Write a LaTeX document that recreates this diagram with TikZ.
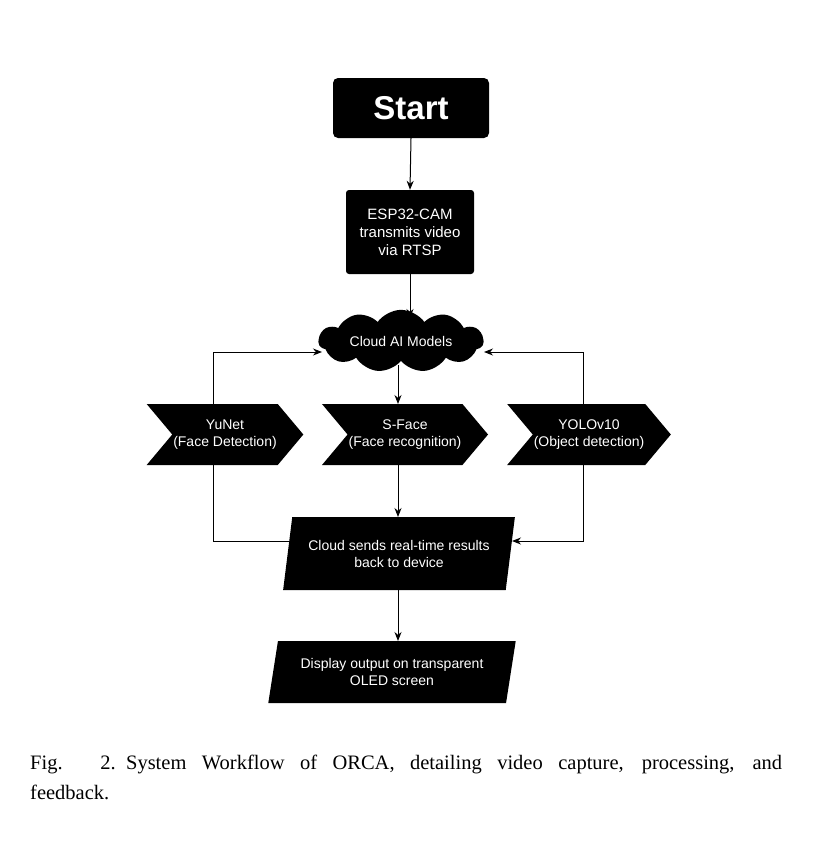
\documentclass[tikz,border=0pt]{standalone}
\usepackage{fontspec}
\setmainfont{Liberation Serif}
\newfontfamily\arialf{Liberation Sans}
\usetikzlibrary{shapes.geometric,shapes.symbols,arrows.meta}
\begin{document}
\begin{tikzpicture}[x=1pt,y=-1pt,
  blk/.style={fill=black,text=white,font=\arialf\fontsize{14}{17}\selectfont,align=center,inner sep=1pt},
  chev/.style={blk,signal,signal to=east,signal from=west,signal pointer angle=100,minimum width=154pt,minimum height=61pt},
  para/.style={blk,trapezium,trapezium left angle=75,trapezium right angle=105,trapezium stretches=true},
  arr/.style={-{Stealth[length=9pt,width=7pt]},line width=1pt}]
\useasboundingbox (0,0) rectangle (812,867);
\node[blk,rounded corners=5pt,minimum width=156pt,minimum height=60pt,font=\arialf\bfseries\fontsize{33}{36}\selectfont] (start) at (411,108) {Start};
\node[blk,rounded corners=3pt,minimum width=128pt,minimum height=84pt,font=\arialf\fontsize{15}{18}\selectfont] (esp) at (410,232) {ESP32-CAM\\transmits video\\via RTSP};
\node[blk,cloud,cloud puffs=11,cloud puff arc=110,aspect=3.5,minimum width=165pt,minimum height=50pt] (cloud) at (401,341) {Cloud AI Models};
\node[chev] (yu) at (225,434.5) {YuNet\\(Face Detection)};
\node[chev] (sf) at (405,434.5) {S-Face\\(Face recognition)};
\node[chev] (yo) at (589,434.5) {YOLOv10\\(Object detection)};
\node[para,minimum width=232pt,minimum height=73pt] (res) at (399,553.5) {Cloud sends real-time results\\back to device};
\node[para,minimum width=248pt,minimum height=62pt] (disp) at (392,672) {Display output on transparent\\OLED screen};
\coordinate (a1) at (213,352);
\coordinate (a2) at (583,352);
\coordinate (b1) at (213,541);
\coordinate (b2) at (583,541);
\draw[arr] (start.south) -- (esp.north);
\draw[arr] (esp.south) -- (410,318);
\draw[arr] (398,365) -- (398,404);
\draw[arr] (213,404) -- (a1) -- (322,352);
\draw[arr] (583,404) -- (a2) -- (484,352);
\draw[arr] (213,465) -- (b1) -- (299,541);
\draw[arr] (583,465) -- (b2) -- (512,541);
\draw[arr] (398,465) -- (398,517);
\draw[arr] (398,590) -- (398,641);
\node[anchor=north west,align=justify,font=\fontsize{20.5}{30}\selectfont,text width=752pt,inner sep=0] (cap) at (30,755) {Fig. 2.\enspace System Workflow of ORCA, detailing video capture, processing, and\linebreak feedback.};
\end{tikzpicture}
\end{document}
